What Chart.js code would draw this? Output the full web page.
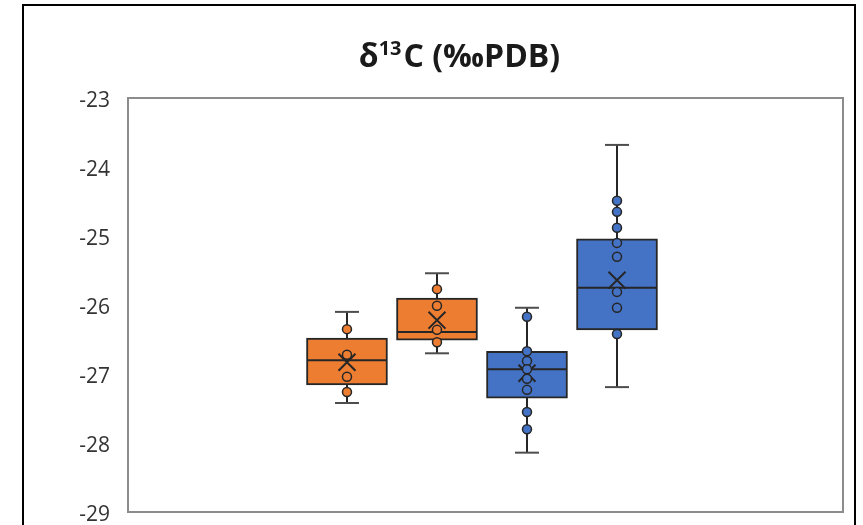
<!DOCTYPE html>
<html>
<head>
<meta charset="utf-8">
<script src="https://cdn.jsdelivr.net/npm/chart.js@4.4.0/dist/chart.umd.min.js"></script>
<style>
  html, body { margin: 0; padding: 0; background: #fff; }
  #wrap { position: relative; width: 863px; height: 525px; }
</style>
</head>
<body>
<div id="wrap"><canvas id="boxChart"></canvas></div>
<script>
// δ13C box plots - 4 grupos (2 naranja, 2 azul)
const groupPos = [1, 2, 3, 4];
const groupColors = ['#ED7D31', '#ED7D31', '#4472C4', '#4472C4'];
const yTicks = [-29, -28, -27, -26, -25, -24, -23];

const whiskerLow  = [-27.42, -26.70, -28.14, -27.19];
const q1          = [-27.16, -26.51, -27.35, -26.36];
const medians     = [-26.80, -26.39, -26.93, -25.75];
const q3          = [-26.48, -25.90, -26.67, -25.04];
const whiskerHigh = [-26.10, -25.54, -26.04, -23.68];
const means       = [-26.83, -26.22, -26.99, -25.64];

const points1 = [-26.35, -26.72, -27.04, -27.26];
const points2 = [-25.77, -26.01, -26.36, -26.54];
const points3 = [-26.17, -26.67, -26.81, -26.93, -27.07, -27.23, -27.55, -27.80];
const points4 = [-24.49, -24.65, -24.88, -25.10, -25.30, -25.81, -26.04, -26.42];
const allPoints = [points1, points2, points3, points4];

const lineColor = '#262626';

// Marco exterior, borde del área de trazado y título con superíndice
const framePlugin = {
    id: 'frame',
    beforeDraw(chart) {
        const ctx = chart.ctx;
        ctx.save();
        ctx.strokeStyle = '#000';
        ctx.lineWidth = 2;
        ctx.strokeRect(23, 5, 832, 600);
        ctx.restore();
    },
    afterDraw(chart) {
        const ctx = chart.ctx;
        const a = chart.chartArea;
        ctx.save();
        ctx.strokeStyle = '#8c8c8c';
        ctx.lineWidth = 2;
        ctx.strokeRect(a.left, a.top, a.right - a.left, a.bottom - a.top);

        const big = 'bold 32px "Open Sans"';
        const small = 'bold 20px "Open Sans"';
        const parts = [['δ', big, 0], ['13', small, -12], ['C (‰PDB)', big, 0]];
        let total = 0;
        parts.forEach(p => { ctx.font = p[1]; total += ctx.measureText(p[0]).width + (p[0] === '13' ? 2 : 0); });
        let x = 459.5 - total / 2;
        ctx.fillStyle = '#1a1a1a';
        ctx.textBaseline = 'alphabetic';
        parts.forEach(p => {
            ctx.font = p[1];
            ctx.fillText(p[0], x, 67 + p[2]);
            x += ctx.measureText(p[0]).width + (p[0] === '13' ? 2 : 0);
        });
        ctx.restore();
    }
};

const datasets = [];

// Puntos internos
allPoints.forEach((pts, i) => {
    datasets.push({
        type: 'scatter',
        data: pts.map(v => ({ x: groupPos[i], y: v })),
        pointStyle: 'circle',
        pointRadius: 4.5,
        pointBorderWidth: 1.5,
        pointBackgroundColor: groupColors[i],
        pointBorderColor: lineColor,
        order: 0
    });
});

// Medias (X)
datasets.push({
    type: 'scatter',
    data: means.map((v, i) => ({ x: groupPos[i], y: v })),
    pointStyle: 'crossRot',
    pointRadius: 12,
    pointBorderWidth: 2,
    pointBorderColor: lineColor,
    order: 1
});

// Medianas
datasets.push({
    type: 'scatter',
    data: medians.map((v, i) => ({ x: groupPos[i], y: v })),
    pointStyle: 'line',
    pointRadius: 40,
    pointBorderWidth: 2,
    pointBorderColor: lineColor,
    order: 2
});

// Cajas
datasets.push({
    type: 'bar',
    data: q1.map((v, i) => ({ x: groupPos[i], y: [v, q3[i]] })),
    backgroundColor: groupColors,
    borderColor: lineColor,
    borderWidth: 2,
    borderSkipped: false,
    barThickness: 81,
    order: 3
});

// Topes de bigotes
datasets.push({
    type: 'scatter',
    data: whiskerLow.map((v, i) => ({ x: groupPos[i], y: v }))
        .concat(whiskerHigh.map((v, i) => ({ x: groupPos[i], y: v }))),
    pointStyle: 'line',
    pointRadius: 12,
    pointBorderWidth: 2,
    pointBorderColor: '#4d4d4d',
    order: 4
});

// Bigotes
groupPos.forEach((p, i) => {
    datasets.push({
        type: 'line',
        data: [{ x: p, y: whiskerLow[i] }, { x: p, y: whiskerHigh[i] }],
        borderColor: lineColor,
        borderWidth: 2,
        pointRadius: 0,
        fill: false,
        order: 5
    });
});

new Chart(document.getElementById('boxChart'), {
    type: 'bar',
    data: { datasets: datasets },
    options: {
        responsive: true,
        maintainAspectRatio: false,
        animation: false,
        layout: { autoPadding: false, padding: { top: 98, right: 20, bottom: 13, left: 0 } },
        plugins: {
            legend: { display: false },
            tooltip: { enabled: false },
            title: { display: false }
        },
        scales: {
            x: {
                type: 'linear',
                min: -1.433,
                max: 6.511,
                offset: false,
                display: false
            },
            y: {
                min: -29,
                max: -23,
                afterFit: function(scale) {
                    scale.width = 128;
                    scale.paddingTop = 0;
                    scale.paddingBottom = 0;
                },
                afterBuildTicks: function(scale) {
                    scale.ticks = yTicks.map(v => ({ value: v }));
                },
                grid: { display: false, drawTicks: false },
                border: { display: false },
                ticks: {
                    color: '#333333',
                    padding: 18,
                    labelOffset: 3,
                    font: { family: 'Open Sans', size: 21 }
                }
            }
        }
    },
    plugins: [framePlugin]
});
</script>
</body>
</html>
